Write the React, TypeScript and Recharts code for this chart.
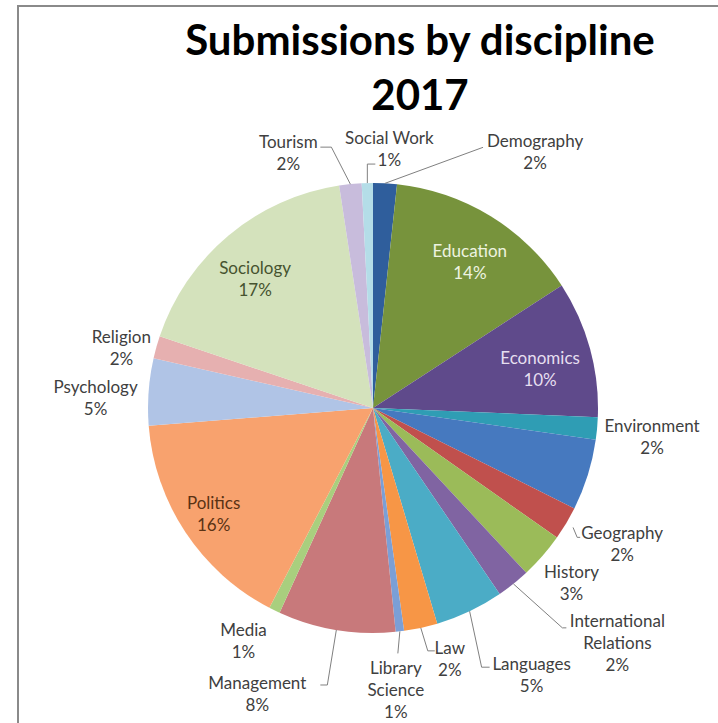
import React from 'react';
import { PieChart, Pie, Cell } from 'recharts';

// clockwise from 12 o'clock, as in the original
const disciplines = [
  'Demography', 'Education', 'Economics', 'Environment', '', 'Geography', 'History',
  'International Relations', 'Languages', 'Law', 'Library Science', 'Management', 'Media',
  'Politics', 'Psychology', 'Religion', 'Sociology', 'Tourism', 'Social Work',
];
const shares = [1.7, 14.1, 9.8, 1.6, 5.1, 2.4, 3.3, 2.4, 4.9, 2.4, 0.6, 8.4, 0.8, 16.1, 4.8, 1.6, 17.4, 1.6, 0.8];
const sliceColors = [
  '#2f5e9c', '#77933c', '#5f4a8b', '#2f9db4', '#4679bf', '#c0504d', '#9bbb59',
  '#8064a2', '#4bacc6', '#f79646', '#7b9fd6', '#c8797b', '#a9cf7e',
  '#f8a26e', '#b0c4e6', '#e6b0b0', '#d4e2bc', '#c8bcdc', '#b4dde8',
];
const titleLines = ['Submissions by discipline', '2017'];

const data = disciplines.map((name, i) => ({ name, value: shares[i] }));

const RAD = Math.PI / 180;
const FONT = 'Lato, "Open Sans", sans-serif';

type Spot = {
  dx?: number;
  dy?: number;
  r?: number;
  fill?: string;
  wrap?: boolean;
  gap?: number;
  leader?: number[][];
};

// label placement: outside labels are offset from the slice's outer edge,
// inside labels sit on the mid angle at a fraction of the radius (plus a nudge)
const labelSpots: Record<string, Spot> = {
  Demography: { dx: 150, dy: -32, leader: [[-52, -4]] },
  Education: { r: 0.78, dx: 5, dy: 3, fill: '#eef3e0' },
  Economics: { r: 0.77, dy: 6, fill: '#e6dff0' },
  Environment: { dx: 55, dy: 8 },
  Geography: { dx: 56, dy: 20, gap: 8, leader: [[-45, -6], [-42, -6]] },
  History: { dx: 29, dy: 27 },
  'International Relations': { dx: 104, dy: 59, wrap: true, leader: [[-55, -15], [-51, -15]] },
  Languages: { dx: 62, dy: 63, leader: [[-50, -7], [-42, -7]] },
  Law: { dx: 29, dy: 31, leader: [[-22, -8], [-15, -8]] },
  'Library Science': { dx: -4, dy: 58, wrap: true, leader: [[2, -36]] },
  Management: { dx: -79, dy: 64, leader: [[70, -9], [63, -9]] },
  Media: { dx: -31, dy: 30 },
  Politics: { r: 0.85, fill: '#5a3214' },
  Psychology: { dx: -53, dy: 6 },
  Religion: { dx: -35, dy: 0 },
  Sociology: { r: 0.78, dx: -5, dy: 5, fill: '#46532f' },
  Tourism: { dx: -62, dy: -32, leader: [[43, -5], [32, -5]] },
  'Social Work': { dx: 22, dy: -35, leader: [[-22, 16], [-14, 16]] },
};

const renderLabel = (props: any) => {
  const { cx, cy, midAngle, outerRadius, percent, index } = props;
  const name = disciplines[index];
  const spot = labelSpots[name];
  if (!spot) return <g />;
  const cos = Math.cos(-midAngle * RAD);
  const sin = Math.sin(-midAngle * RAD);
  const r = spot.r ? outerRadius * spot.r : outerRadius;
  const lx = cx + r * cos + (spot.dx || 0);
  const ly = cy + r * sin + (spot.dy || 0);
  const lines = spot.wrap ? name.split(' ') : [name];
  lines.push(`${Math.round(percent * 100)}%`);

  let leaderPts = '';
  if (spot.leader) {
    const g = spot.gap || 0;
    const pts = [[cx + (outerRadius + g) * cos, cy + (outerRadius + g) * sin]];
    spot.leader.forEach(([px, py]) => pts.push([lx + px, ly + py]));
    leaderPts = pts.map(p => p.join(',')).join(' ');
  }

  return (
    <g>
      {leaderPts && <polyline points={leaderPts} fill="none" stroke="#808080" strokeWidth={1} />}
      {lines.map((t, i) => (
        <text
          key={i}
          x={lx}
          y={ly + (i - (lines.length - 1) / 2) * 22}
          textAnchor="middle"
          dominantBaseline="central"
          fontFamily={FONT}
          fontSize={17}
          fill={spot.fill || '#404040'}
        >
          {t}
        </text>
      ))}
    </g>
  );
};

const App: React.FC = () => {
  return (
    <div style={{ position: 'relative', width: 718, height: 723, background: '#ffffff', overflow: 'hidden' }}>
      <style>{'body{margin:0;}'}</style>
      <div style={{ position: 'absolute', left: 17, top: 5, right: 0, bottom: -4, borderTop: '2px solid #8a8a8a', borderLeft: '2px solid #8a8a8a' }} />
      <div
        style={{
          position: 'absolute', left: 120, top: 12, width: 600, textAlign: 'center',
          fontFamily: FONT, fontWeight: 700, fontSize: 42, lineHeight: '55px', color: '#000000',
        }}
      >
        {titleLines.map((t, i) => <div key={i}>{t}</div>)}
      </div>
      <div style={{ position: 'absolute', left: 0, top: 0 }}>
        <PieChart width={718} height={723} margin={{ top: 0, right: 0, bottom: 0, left: 0 }}>
          <Pie
            data={data}
            dataKey="value"
            nameKey="name"
            cx={373}
            cy={408}
            outerRadius={225}
            startAngle={90}
            endAngle={-270}
            stroke="none"
            label={renderLabel}
            labelLine={false}
            isAnimationActive={false}
          >
            {data.map((d, i) => (
              <Cell key={`cell-${i}`} fill={sliceColors[i]} />
            ))}
          </Pie>
        </PieChart>
      </div>
    </div>
  );
};

export default App;
